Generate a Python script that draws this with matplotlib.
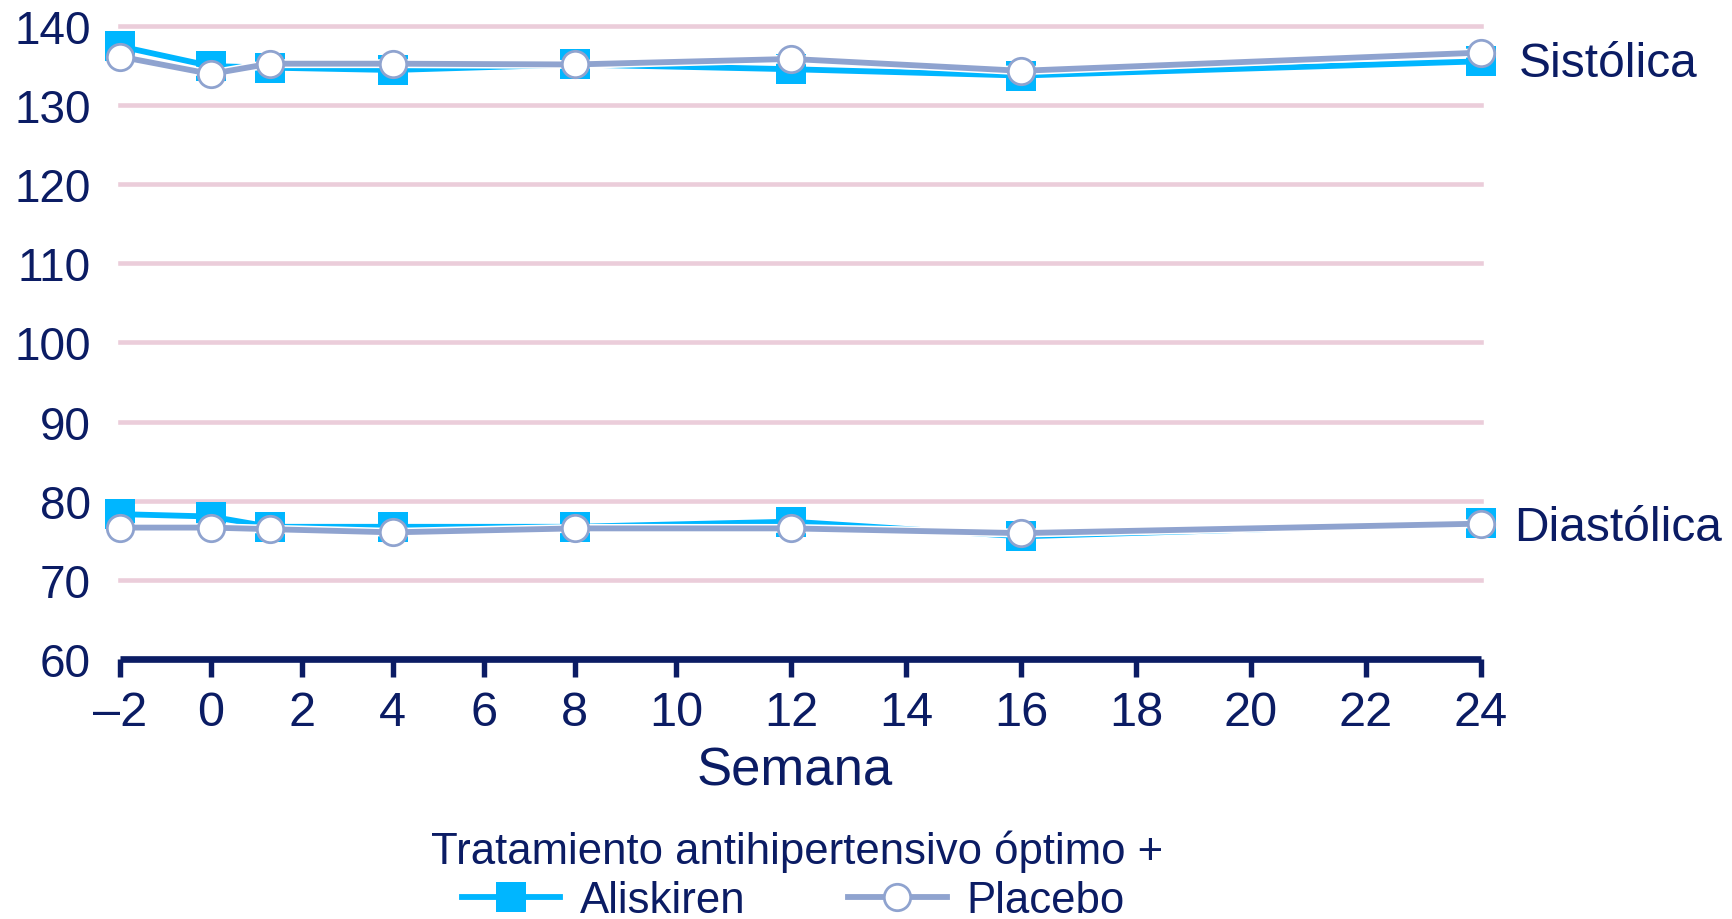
import numpy as np
import matplotlib
matplotlib.use("Agg")
import matplotlib.pyplot as plt

# --- data -------------------------------------------------------------
weeks = [-2, 0, 1.3, 4, 8, 12, 16, 24]
sist_aliskiren = [137.4, 134.9, 134.7, 134.4, 135.1, 134.5, 133.7, 135.5]
sist_placebo = [136.1, 133.9, 135.2, 135.2, 135.1, 135.8, 134.3, 136.6]
diast_aliskiren = [78.3, 78.0, 76.7, 76.7, 76.7, 77.35, 75.5, 77.2]
diast_placebo = [76.6, 76.6, 76.4, 76.0, 76.5, 76.5, 75.9, 77.1]

x_ticks = [-2, 0, 2, 4, 6, 8, 10, 12, 14, 16, 18, 20, 22, 24]
x_ticklabels = ["–2"] + [str(v) for v in x_ticks[1:]]
y_ticks = [60, 70, 80, 90, 100, 110, 120, 130, 140]

# --- style ------------------------------------------------------------
NAVY = "#0B1C64"
CYAN = "#00B6FF"
SLATE = "#8FA3CF"
GRID = "#EBCDDA"
FONT = "Liberation Sans"
plt.rcParams["font.family"] = [FONT, "DejaVu Sans"]

# piecewise-linear week axis: the first weeks are drawn more compactly
_wk = np.array([-2.0, 8.0, 10.0, 24.0])
_ps = np.array([0.0, 454.7, 556.5, 1360.9])


def _pw(x, xp, fp):
    x = np.asarray(x, dtype=float)
    y = np.interp(x, xp, fp)
    s0 = (fp[1] - fp[0]) / (xp[1] - xp[0])
    s1 = (fp[-1] - fp[-2]) / (xp[-1] - xp[-2])
    y = np.where(x < xp[0], fp[0] + (x - xp[0]) * s0, y)
    y = np.where(x > xp[-1], fp[-1] + (x - xp[-1]) * s1, y)
    return y


def fwd(x):
    return _pw(x, _wk, _ps)


def inv(y):
    return _pw(y, _ps, _wk)


fig = plt.figure(figsize=(17.32, 9.2), dpi=100)
ax = fig.add_axes([0.06917, 0.2826, 0.78574, 0.6884])
ax.set_xscale("function", functions=(fwd, inv))
ax.set_xlim(-2, 24)
ax.set_ylim(60, 140)

for v in y_ticks[1:]:
    ax.axhline(v, color=GRID, lw=3.3, zorder=1, clip_on=False)

LW = 4.2
kw_a = dict(color=CYAN, lw=LW, marker="s", ms=21.0, mew=0, mfc=CYAN,
            clip_on=False)
kw_p = dict(color=SLATE, lw=LW, marker="o", ms=19.0, mew=2.0, mfc="white",
            mec=SLATE, clip_on=False)


def series(xs, ys, z, label=None, **kw):
    # thin white rim under each line
    ax.plot(xs, ys, color="white", lw=LW + 2.2, zorder=z - 0.5,
            solid_capstyle="butt", clip_on=False)
    ax.plot(xs, ys, zorder=z, label=label, **kw)


series(weeks, sist_aliskiren, 3, label="Aliskiren", **kw_a)
series(weeks, diast_aliskiren, 3, **kw_a)
series(weeks, sist_placebo, 4, label="Placebo", **kw_p)
series(weeks, diast_placebo, 4, **kw_p)

for side in ("top", "right", "left"):
    ax.spines[side].set_visible(False)
ax.spines["bottom"].set_color(NAVY)
ax.spines["bottom"].set_linewidth(4.8)
ax.spines["bottom"].set_capstyle("butt")

ax.set_xticks(x_ticks)
ax.set_xticklabels(x_ticklabels)
ax.set_yticks(y_ticks)
ax.tick_params(axis="x", direction="out", length=13, width=3.9, color=NAVY,
               labelcolor=NAVY, labelsize=35, pad=9)
ax.tick_params(axis="y", length=0, labelcolor=NAVY, labelsize=33, pad=21)

yx = ax.get_yaxis_transform()
ax.text(1.0282, 140 - (77.3 - 26.7) / 7.916, "Sistólica", transform=yx,
        ha="left", va="baseline", fontsize=34.5, color=NAVY)
ax.text(1.0245, 80 - (540 - 500.7) / 7.916, "Diastólica", transform=yx,
        ha="left", va="baseline", fontsize=34.5, color=NAVY)

fig.text(795 / 1732, 1 - 786 / 920, "Semana", ha="center", va="baseline",
         fontsize=37.9, color=NAVY)

fig.text(797 / 1732, 1 - 864 / 920, "Tratamiento antihipertensivo óptimo +",
         ha="center", va="baseline", fontsize=31.5, color=NAVY)

leg = fig.legend(loc="center", bbox_to_anchor=(793 / 1732, 1 - 902 / 920),
                 ncol=2, frameon=False, fontsize=31.5, markerscale=1.0,
                 handlelength=2.25, handletextpad=0.45,
                 columnspacing=2.35, borderpad=0, borderaxespad=0)
for t in leg.get_texts():
    t.set_color(NAVY)

fig.savefig("out.png", dpi=100)
